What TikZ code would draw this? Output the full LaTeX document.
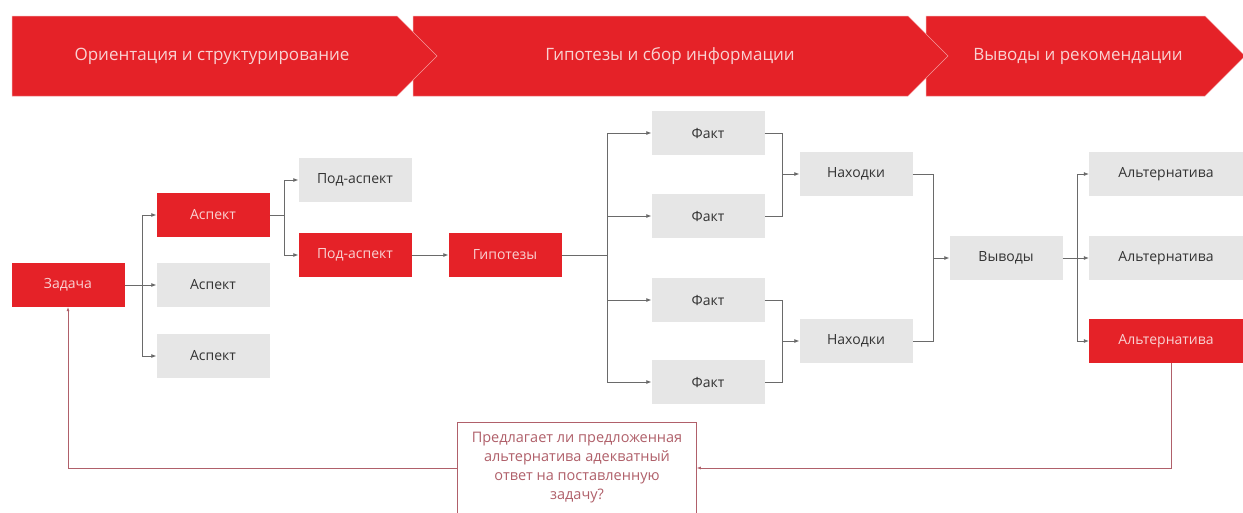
\documentclass[tikz,border=0pt]{standalone}
\usepackage{fontspec}
\setmainfont{Open Sans}
\usetikzlibrary{arrows.meta}

\definecolor{mainred}{HTML}{E52228}
\definecolor{boxgrey}{HTML}{E6E6E6}
\definecolor{linegrey}{HTML}{6A6A6A}
\definecolor{backred}{HTML}{B0606A}
\definecolor{paletext}{HTML}{F9D2D2}

\begin{document}
\begin{tikzpicture}[x=1pt,y=-1pt,
    box/.style={minimum width=113pt, minimum height=44pt, inner sep=0pt,
        font=\fontsize{14}{16}\selectfont},
    redbox/.style={box, fill=mainred, text=paletext},
    greybox/.style={box, fill=boxgrey, text=black!80},
    altbox/.style={minimum width=154pt},
    wire/.style={draw=linegrey, line width=0.7pt},
    link/.style={wire, -{Latex[length=5pt,width=4pt]}},
    backlink/.style={draw=backred, line width=0.6pt, -{Latex[length=4pt,width=3pt]}},
    banner/.style={fill=mainred, draw=white!55!mainred, line width=0.5pt},
    phase/.style={text=paletext, font=\fontsize{17}{20}\selectfont}
]
\useasboundingbox (0,0) rectangle (1243,512);
\clip (0,0) rectangle (1243,512);

% Banners: the last one first, so every tip lies over the next banner
\path[banner] (926,16) -- (1205,16) -- (1245,56) -- (1205,96) -- (926,96) -- cycle;
\path[banner] (413,16) -- (908,16) -- (948,56) -- (908,96) -- (413,96) -- cycle;
\path[banner] (12,16) -- (397,16) -- (437,56) -- (397,96) -- (12,96) -- cycle;
\node[phase] (phase1) at (212,56) {Ориентация и структурирование};
\node[phase] (phase2) at (670,56) {Гипотезы и сбор информации};
\node[phase] (phase3) at (1078,56) {Выводы и рекомендации};

% Task, aspects and sub-aspects
\node[redbox]  (task) at (68,285)  {Задача};
\node[redbox]  (asp1) at (213,215) {Аспект};
\node[greybox] (asp2) at (213,285) {Аспект};
\node[greybox] (asp3) at (213,356) {Аспект};
\node[greybox] (sub1) at (355,180) {Под-аспект};
\node[redbox]  (sub2) at (355,255) {Под-аспект};
\node[redbox]  (hyp)  at (505,255) {Гипотезы};

% Facts and findings
\node[greybox] (fact1) at (708,133) {Факт};
\node[greybox] (fact2) at (708,216) {Факт};
\node[greybox] (fact3) at (708,300) {Факт};
\node[greybox] (fact4) at (708,382) {Факт};
\node[greybox] (find1) at (856,174) {Находки};
\node[greybox] (find2) at (856,341) {Находки};

% Conclusions and alternatives
\node[greybox] (concl) at (1006,258) {Выводы};
\node[greybox,altbox] (alt1) at (1166,174) {Альтернатива};
\node[greybox,altbox] (alt2) at (1166,258) {Альтернатива};
\node[redbox,altbox]  (alt3) at (1166,341) {Альтернатива};

\node[draw=backred, fill=white, line width=0.6pt, minimum width=239pt,
    minimum height=92pt, align=center, text=backred,
    font=\fontsize{14.5}{19}\selectfont] (check) at (577,468)
    {Предлагает ли предложенная\\альтернатива адекватный\\ответ на поставленную\\задачу?};

% Tree connectors
\draw[wire] (task.east) -- ++(18,0) coordinate (s1);
\foreach \n in {asp1,asp2,asp3}
    \draw[link] (s1) |- (\n.west);

\draw[wire] (asp1.east) -- ++(15,0) coordinate (s2);
\foreach \n in {sub1,sub2}
    \draw[link] (s2) |- (\n.west);

\draw[link] (sub2) -- (hyp);

\draw[wire] (hyp.east) -- ++(46,0) coordinate (s3);
\foreach \n in {fact1,fact2,fact3,fact4}
    \draw[link] (s3) |- (\n.west);

% Joining facts into findings
\draw[wire] (fact1.east) -- ++(18,0) coordinate (j1) |- (fact2.east);
\draw[link] (j1 |- find1.west) -- (find1.west);
\draw[wire] (fact3.east) -- ++(18,0) coordinate (j2) |- (fact4.east);
\draw[link] (j2 |- find2.west) -- (find2.west);

\draw[wire] (find1.east) -- ++(21,0) coordinate (j3) |- (find2.east);
\draw[link] (j3 |- concl.west) -- (concl.west);

\draw[wire] (concl.east) -- ++(15,0) coordinate (s4);
\foreach \n in {alt1,alt2,alt3}
    \draw[link] (s4) |- (\n.west);

% Feedback loop back to the task
\draw[backlink] ([xshift=5pt]alt3.south) |- (check.east);
\draw[backlink] (check.west) -| (task.south);
\end{tikzpicture}
\end{document}
